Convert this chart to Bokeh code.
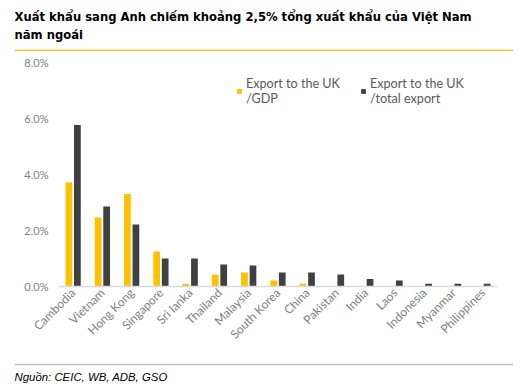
import math
from bokeh.plotting import figure
from bokeh.layouts import column, row
from bokeh.models import (ColumnDataSource, FixedTicker, PrintfTickFormatter, Label,
                          Legend, LegendItem, Range1d, Spacer)
from bokeh.transform import dodge
from bokeh.embed import file_html
from bokeh.resources import INLINE

countries = ["Cambodia", "Vietnam", "Hong Kong", "Singapore", "Sri lanka", "Thailand",
             "Malaysia", "South Korea", "China", "Pakistan", "India", "Laos",
             "Indonesia", "Myanmar", "Philippines"]
export_gdp = [3.72, 2.46, 3.30, 1.25, 0.10, 0.42, 0.50, 0.21, 0.10, 0, 0, 0, 0, 0, 0]
export_total = [5.77, 2.86, 2.21, 1.00, 1.00, 0.79, 0.75, 0.50, 0.50, 0.43, 0.27, 0.21,
                0.10, 0.10, 0.10]
y_ticks = [0, 2, 4, 6, 8]

title_line1 = "Xuất khẩu sang Anh chiếm khoảng 2,5% tổng xuất khẩu của Việt Nam"
title_line2 = "năm ngoái"
source_text = "Nguồn: CEIC, WB, ADB, GSO"
legend_gdp = "Export to the UK\n/GDP"
legend_total = "Export to the UK\n/total export"

YELLOW = "#FFC000"
DARK = "#404040"
GRAY = "#808080"
W = 525
BAND_W = 499


def band(height, rule_top, rule_bottom, rule_color):
    inner = height - rule_top - rule_bottom
    f = figure(width=BAND_W, height=height, output_backend="svg", toolbar_location=None,
               x_axis_type=None, y_axis_type=None,
               x_range=Range1d(0, BAND_W), y_range=Range1d(inner, 0),
               min_border_left=0, min_border_right=0,
               min_border_top=rule_top, min_border_bottom=rule_bottom)
    f.outline_line_color = None
    f.grid.visible = False
    f.background_fill_color = "white"
    f.border_fill_color = rule_color
    return f


# ---- header (its bottom border is the yellow rule) ----
top = band(51, 0, 2, YELLOW)
top.add_layout(Label(x=0, y=9, text=title_line1, text_font="DejaVu Sans",
                     text_font_style="bold", text_font_size="11.6px", text_color="black",
                     text_baseline="top"))
top.add_layout(Label(x=0, y=27, text=title_line2, text_font="DejaVu Sans",
                     text_font_style="bold", text_font_size="11.6px", text_color="black",
                     text_baseline="top"))

# ---- main chart ----
src = ColumnDataSource(dict(c=countries, g=export_gdp, t=export_total))
p = figure(x_range=countries, y_range=(0, 8), width=W, height=312,
           output_backend="svg", toolbar_location=None,
           min_border_left=58, min_border_right=28, min_border_top=11,
           min_border_bottom=77)
p.outline_line_color = None
p.xgrid.grid_line_color = None
p.ygrid.grid_line_color = None

r1 = p.vbar(x=dodge("c", -0.145, range=p.x_range), top="g", width=0.23, source=src,
            fill_color=YELLOW, line_color=None)
r2 = p.vbar(x=dodge("c", 0.145, range=p.x_range), top="t", width=0.23, source=src,
            fill_color=DARK, line_color=None)

p.yaxis.ticker = FixedTicker(ticks=y_ticks)
p.yaxis.formatter = PrintfTickFormatter(format="%.1f%%")
p.yaxis.axis_line_color = None
p.yaxis.major_tick_line_color = None
p.yaxis.minor_tick_line_color = None
p.yaxis.major_tick_out = 0
p.yaxis.major_label_standoff = 10
p.yaxis.major_label_text_font = "Lato"
p.yaxis.major_label_text_font_size = "11px"
p.yaxis.major_label_text_color = GRAY

p.xaxis.axis_line_color = "#d9d9d9"
p.xaxis.axis_line_width = 1.5
p.xaxis.major_tick_line_color = None
p.xaxis.minor_tick_line_color = None
p.xaxis.major_tick_out = 0
p.xaxis.major_label_standoff = 4
p.xaxis.major_label_orientation = math.pi / 4
p.xaxis.major_label_text_font = "Lato"
p.xaxis.major_label_text_font_size = "12px"
p.xaxis.major_label_text_color = GRAY

for r, lab, loc in [(r1, legend_gdp, (178, 180)), (r2, legend_total, (302, 180))]:
    lg = Legend(items=[LegendItem(label=lab, renderers=[r])], location=loc,
                padding=0, margin=0, border_line_color=None, background_fill_alpha=0,
                glyph_width=6, glyph_height=6, label_standoff=4,
                label_text_font="Lato", label_text_font_size="12.6px",
                label_text_color="#595959", label_text_line_height=0.75)
    p.add_layout(lg, "center")

# ---- footer (its top border is the gray rule) ----
bot = band(21, 2, 0, "#bfbfbf")
bot.add_layout(Label(x=0, y=5, text=source_text, text_font="Liberation Sans",
                     text_font_style="italic", text_font_size="11.4px", text_color="black",
                     text_baseline="top"))

layout = column(row(Spacer(width=14, height=51), top),
                p,
                row(Spacer(width=14, height=21), bot),
                spacing=0)
open("out.html", "w").write(file_html(layout, INLINE))
